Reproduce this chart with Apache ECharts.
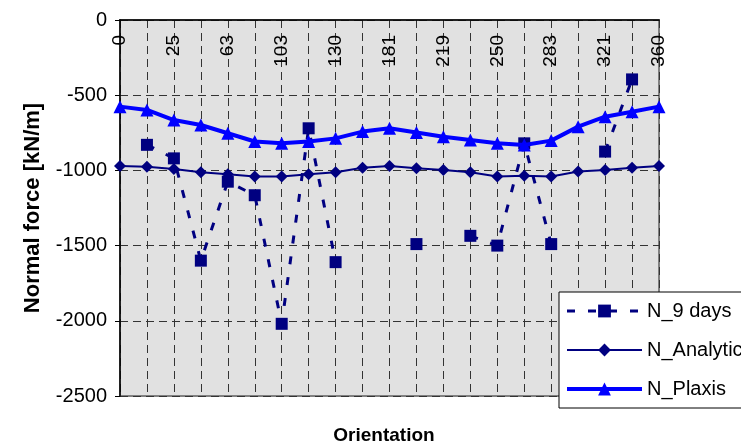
<!DOCTYPE html>
<html>
<head>
<meta charset="utf-8">
<script src="https://cdn.jsdelivr.net/npm/echarts@6/dist/echarts.min.js"></script>
<style>
  html, body { margin: 0; padding: 0; background: #fff; }
  #chart { width: 741px; height: 447px; }
</style>
</head>
<body>
<div id="chart"></div>
<script>
// Orientation of each measurement point (degrees)
const orientation = ['0', '12', '25', '44', '63', '83', '103', '116', '130', '156', '181',
                     '200', '219', '235', '250', '266', '283', '302', '321', '340', '360'];
// Measured normal force after 9 days (gaps where no reading exists)
const nineDays = [null, -830, -920, -1600, -1075, -1165, -2020, -720, -1610, null, null,
                  -1490, null, -1435, -1500, -820, -1490, null, -875, -395, null];
// Analytical solution
const analytic = [-970, -975, -990, -1012, -1026, -1040, -1040, -1025, -1012, -982, -970,
                  -985, -997, -1012, -1040, -1036, -1040, -1008, -997, -982, -970];
// Plaxis finite element result
const plaxis = [-576, -598, -665, -698, -753, -808, -820, -808, -787, -742, -720,
                -748, -776, -798, -820, -831, -802, -709, -643, -610, -576];
// Y axis range
const yMin = -2500, yMax = 0, yStep = 500;

const FONT = '"Liberation Sans", Arial, sans-serif';
const NAVY = '#000080';
const BLUE = '#0000ff';

const chart = echarts.init(document.getElementById('chart'), null, { renderer: 'canvas' });

chart.setOption({
  animation: false,
  backgroundColor: '#ffffff',
  grid: {
    left: 120, right: 82, top: 20, bottom: 51,
    show: true,
    backgroundColor: '#e1e1e1',
    borderColor: '#808080',
    borderWidth: 2
  },
  xAxis: {
    type: 'category',
    position: 'top',
    data: orientation,
    boundaryGap: false,
    axisLine: { show: true, onZero: false, lineStyle: { color: '#000', width: 1.5 } },
    axisTick: { show: false },
    axisLabel: {
      inside: true,
      rotate: -90,
      interval: 1,
      margin: 15,
      fontFamily: FONT,
      fontSize: 19,
      color: '#000',
      showMinLabel: true,
      showMaxLabel: true
    },
    splitLine: {
      show: true,
      interval: 0,
      lineStyle: { color: '#333', width: 1, type: [8, 5] }
    }
  },
  yAxis: {
    type: 'value',
    min: yMin,
    max: yMax,
    interval: yStep,
    name: 'Normal force [kN/m]',
    nameLocation: 'middle',
    nameGap: 76,
    nameTextStyle: { fontFamily: FONT, fontSize: 22, fontWeight: 'bold', color: '#000' },
    axisLine: { show: true, lineStyle: { color: '#000', width: 1.5 } },
    axisTick: { show: true, length: 5, lineStyle: { color: '#000', width: 1 } },
    axisLabel: {
      fontFamily: FONT, fontSize: 20, color: '#000', margin: 13,
      formatter: (v) => String(v)
    },
    splitLine: { show: true, lineStyle: { color: '#333', width: 1, type: [8, 5] } }
  },
  legend: {
    orient: 'vertical',
    left: 559,
    top: 292,
    padding: [9, 10, 9, 6],
    itemWidth: 75,
    itemHeight: 16,
    itemGap: 19,
    backgroundColor: '#ffffff',
    borderColor: '#000',
    borderWidth: 1,
    lineStyle: { width: 'inherit' },
    textStyle: { fontFamily: FONT, fontSize: 20, color: '#000' },
    data: ['N_9 days', 'N_Analytic', 'N_Plaxis']
  },
  graphic: [{
    type: 'text',
    x: 384,
    y: 436,
    style: {
      text: 'Orientation',
      font: 'bold 19px ' + FONT,
      align: 'center',
      verticalAlign: 'middle',
      fill: '#000'
    }
  }],
  series: [
    {
      name: 'N_9 days',
      type: 'line',
      data: nineDays,
      connectNulls: false,
      showAllSymbol: true,
      symbol: 'rect',
      symbolSize: 12,
      itemStyle: { color: NAVY },
      lineStyle: { color: NAVY, width: 3, type: [8, 13] },
      z: 2
    },
    {
      name: 'N_Analytic',
      type: 'line',
      data: analytic,
      showAllSymbol: true,
      symbol: 'diamond',
      symbolSize: 12,
      itemStyle: { color: NAVY },
      lineStyle: { color: NAVY, width: 2 },
      z: 3
    },
    {
      name: 'N_Plaxis',
      type: 'line',
      data: plaxis,
      showAllSymbol: true,
      symbol: 'triangle',
      symbolSize: 13,
      itemStyle: { color: BLUE },
      lineStyle: { color: BLUE, width: 4 },
      z: 4
    }
  ]
});
</script>
</body>
</html>
